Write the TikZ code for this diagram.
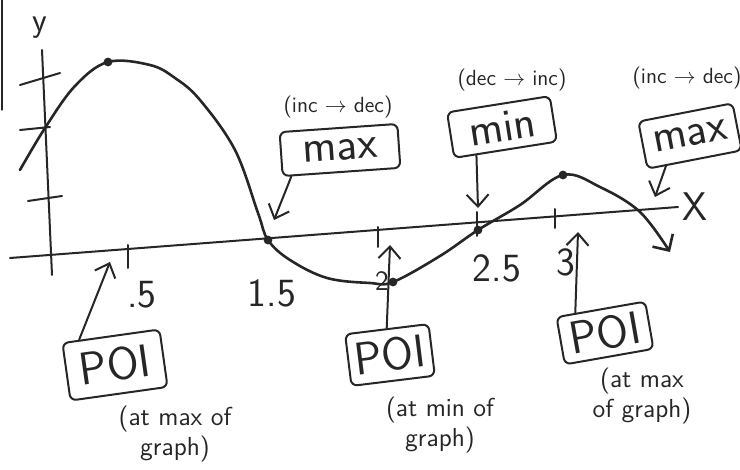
\documentclass[tikz,border=0pt]{standalone}
\usepackage{amsmath}
\usepackage{tikz}
\usetikzlibrary{calc,arrows.meta}

\begin{document}
\begin{tikzpicture}[x=0.5pt,y=-0.5pt,line width=1pt,
    pen/.style={black!85,line cap=round,line join=round},
    labelbox/.style={draw,pen,rounded corners=3pt,inner sep=1pt,font=\fontsize{23}{25}\selectfont\sffamily},
    note/.style={font=\fontsize{11}{13}\selectfont\sffamily,align=center,black!85},
    ticklab/.style={font=\fontsize{20}{22}\selectfont\sffamily,black!85},
    arr/.style={pen,-{Straight Barb[length=6pt,width=11pt]}}]
  \useasboundingbox (0,0) rectangle (740,470);
  \draw[pen,line width=0.6pt] (2,0) -- (2,110);
  % axes
  \coordinate (yTop) at (42,50);
  \coordinate (yBot) at (52,275);
  \coordinate (xL) at (10,258);
  \coordinate (xR) at (678,207);
  \draw[pen] (yTop) -- (yBot);
  \draw[pen] (xL) -- (xR);
  \node[ticklab,font=\fontsize{17}{19}\selectfont\sffamily] (ylab) at (40,28) {y};
  \node[ticklab] (xlab) at (695,207) {X};
  \draw[pen] (20,85) -- (60,73);
  \draw[pen] (20,130) -- (50,127);
  \draw[pen] (28,201) -- (62,196);
  \foreach \x/\ya/\yb in {128/245/268,378/227/247,477/212/236,555/209/228}
    \draw[pen] (\x,\ya) -- (\x,\yb);
  \node[ticklab] (lA) at (142,295) {.5};
  \node[ticklab] (lB) at (272,293) {1.5};
  \node[ticklab,font=\fontsize{14}{16}\selectfont\sffamily] (lC) at (382,281) {2};
  \node[ticklab] (lD) at (497,268) {2.5};
  \node[ticklab] (lE) at (566,262) {3};
  % graph
  \draw[pen,line width=1.3pt,-{Straight Barb[length=6pt,width=12pt]}] plot[smooth,tension=0.6] coordinates {
    (20,170) (45,128) (75,86) (108,62) (150,65) (175,78) (200,100) (235,150) (258,213) (268,240)
    (290,260) (327,278) (370,283) (393,282) (440,256) (478,230) (520,205) (563,175) (600,187)
    (640,212) (670,252)};
  \coordinate (ptA) at (108,62);
  \coordinate (ptB) at (268,240);
  \coordinate (ptC) at (393,282);
  \coordinate (ptD) at (478,230);
  \coordinate (ptE) at (563,175);
  \foreach \p in {ptA,ptB,ptC,ptD,ptE}
    \fill[black!85] (\p) circle (2.2pt);
  % boxes
  \node[labelbox,rotate=4,minimum width=59pt,minimum height=22pt] (maxA) at (340,150) {max};
  \node[note] (noteA) at (338,107) {(inc $\rightarrow$ dec)};
  \node[labelbox,rotate=9,minimum width=52pt,minimum height=23pt] (minB) at (502,127) {min};
  \node[note] (noteB) at (512,80) {(dec $\rightarrow$ inc)};
  \node[labelbox,rotate=11,minimum width=48pt,minimum height=24pt] (maxC) at (690,136) {max};
  \node[note] (noteC) at (687,78) {(inc $\rightarrow$ dec)};
  \node[labelbox,rotate=8,minimum width=49pt,minimum height=29pt] (poiA) at (115,365) {POI};
  \node[note,font=\fontsize{13}{15}\selectfont\sffamily] (noteD) at (175,434) {(at max of\\graph)};
  \node[labelbox,rotate=7,minimum width=42pt,minimum height=26pt] (poiB) at (390,355) {POI};
  \node[note,font=\fontsize{13}{15}\selectfont\sffamily] (noteE) at (440,425) {(at min of\\graph)};
  \node[labelbox,rotate=10,minimum width=45pt,minimum height=24pt] (poiC) at (605,333) {POI};
  \node[note,font=\fontsize{13}{15}\selectfont\sffamily] (noteF) at (642,396) {(at max\\of graph)};
  % pointers
  \coordinate (tipA) at (274,220);
  \coordinate (tipB) at (478,208);
  \coordinate (tipC) at (655,197);
  \coordinate (tipD) at (110,262);
  \coordinate (tipE) at (390,245);
  \coordinate (tipF) at (578,232);
  \draw[arr] ($(maxA.south west)!0.08!(maxA.south east)$) -- (tipA);
  \draw[arr] ($(minB.south west)!0.22!(minB.south east)$) -- (tipB);
  \draw[arr] ($(maxC.south west)!0.2!(maxC.south east)$) -- (tipC);
  \draw[arr] ($(poiA.north west)!0.18!(poiA.north east)$) -- (tipD);
  \draw[arr] (poiB.north) -- (tipE);
  \draw[arr] ($(poiC.north west)!0.22!(poiC.north east)$) -- (tipF);
\end{tikzpicture}
\end{document}
